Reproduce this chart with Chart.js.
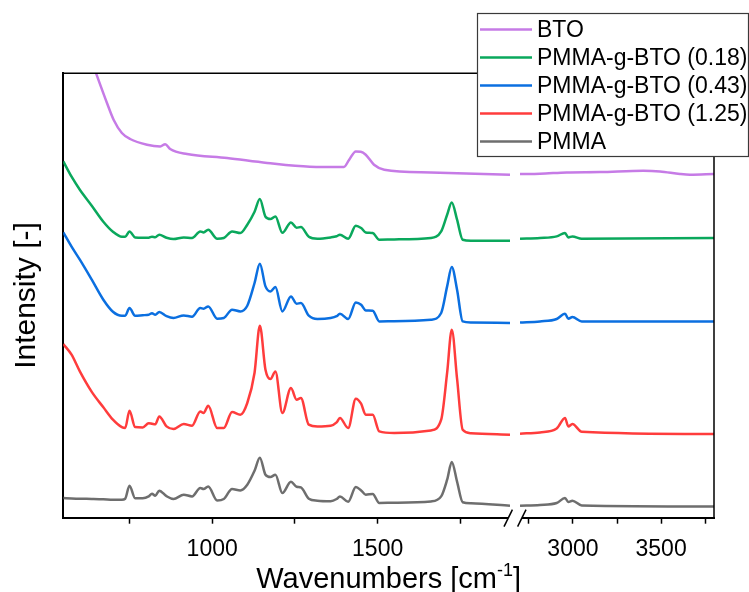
<!DOCTYPE html>
<html>
<head>
<meta charset="utf-8">
<title>FTIR spectra</title>
<script src="https://cdn.jsdelivr.net/npm/chart.js@4.4.1/dist/chart.umd.min.js"></script>
<style>
  body { margin: 0; background: #fff; }
  #wrap { position: relative; width: 749px; height: 592px; }
</style>
</head>
<body>
<div id="wrap"><canvas id="ftir"></canvas></div>
<script>
// wavenumbers (cm-1) shared by the PMMA containing samples, null in 1900-2700 breaks the line
const wavenumbers = [550, 575, 600, 636, 671, 700, 727, 737, 750, 767,
  790, 808, 818, 828, 840, 862, 883, 914, 939, 964,
  974, 988, 1015, 1035, 1060, 1085, 1106, 1128, 1144, 1161,
  1176, 1191, 1212, 1238, 1255, 1268, 1292, 1318, 1358, 1376,
  1386, 1411, 1434, 1450, 1464, 1485, 1505, 1550, 1661, 1692,
  1710, 1724, 1740, 1757, 1782, 1900,
  2300,
  2700, 2813, 2908, 2955, 2974, 2997, 3050, 3800];

const pmma = [19.7, 19.3, 19, 18.8, 18.5, 18, 18, 19, 32, 19.5,
  19.5, 21.3, 24, 22, 27, 21.5, 18.7, 23, 21.3, 29.7,
  28.7, 31.3, 17.3, 18.7, 28.7, 27.3, 33, 47, 60, 43,
  40.7, 43, 24.7, 36, 31, 30.3, 19, 17, 16.5, 18.7,
  21.3, 16, 30.7, 27.3, 23, 23.7, 14.7, 15, 16.3, 21.3,
  38, 55.7, 36, 15.5, 14.5, 12,
  null,
  12, 12.8, 14.7, 19.7, 15.7, 17, 12.3, 11.3];

const graft125 = [173.7, 163, 146.3, 125.8, 110.4, 98, 90.5, 89.7, 107, 90.7,
  90.3, 94.5, 94, 93.5, 101.3, 91.3, 88.7, 93.7, 92, 106.3,
  104.7, 112, 89.7, 89.7, 105.7, 103, 114.7, 145, 192, 148,
  138.7, 146.3, 104.7, 129.7, 118, 119.7, 93, 91.3, 92, 95.3,
  99.7, 89.7, 119, 114, 103, 103, 86.3, 84.7, 87.3, 98,
  145, 188, 139, 88, 84.5, 83,
  null,
  84, 85.3, 89.2, 99.7, 91.3, 93.7, 86, 83.7];

const graft043 = [285.3, 271, 258, 238, 218, 206, 202, 202, 209.7, 202,
  202.5, 203, 204.5, 203, 205.7, 201.5, 199.7, 202.3, 201, 209.7,
  209, 211.3, 199, 199.7, 208, 206.3, 212, 234.7, 254, 231.3,
  226.3, 230.7, 206.3, 221.3, 214, 214.7, 202, 198.7, 199.7, 201.5,
  204, 198.7, 215.3, 213, 207.3, 207, 196.3, 196.5, 198, 204.7,
  231.3, 250.7, 228, 196.3, 195.3, 194.7,
  null,
  195.3, 196.3, 198.7, 204, 199, 200.7, 196.3, 196.3];

const graft018 = [356.3, 341, 328, 312, 296, 286, 281, 281, 286.3, 280.3,
  280, 280, 281, 280.5, 283, 280, 278.7, 280.3, 279.7, 286.3,
  285.3, 288, 279, 279.7, 286.3, 284.7, 293, 306, 318.7, 301,
  298.7, 301.3, 285, 295.3, 290, 290.7, 281, 279, 280.3, 281.5,
  283, 279, 292, 289.7, 285.3, 284.7, 278, 278.3, 279.7, 286.3,
  303, 315.3, 298, 278, 277, 277,
  null,
  279, 279.7, 281.3, 284.7, 280.3, 281.3, 279, 279.7];

// bare BTO has its own sampling
const btoWavenumbers = [550, 600, 649, 682, 702, 727, 752, 803, 843, 858,
  873, 924, 1045, 1166, 1295, 1398, 1414, 1434, 1449, 1464,
  1489, 1520, 1661, 1900,
  2300,
  2700, 2813, 2965, 3154, 3399, 3494, 3607, 3664, 3800];
const bto = [540, 490, 444.4, 414.7, 398, 384.7, 378.7, 373, 371.3, 373.5,
  368.7, 363.7, 359.7, 354.7, 351, 350.7, 358, 366.3, 366, 363,
  353, 348, 345.3, 343,
  null,
  343.7, 344, 345.3, 345.7, 347, 346.3, 343.7, 343, 343.7];

const seriesNames = ['BTO', 'PMMA-g-BTO (0.18)', 'PMMA-g-BTO (0.43)', 'PMMA-g-BTO (1.25)', 'PMMA'];
const seriesColors = ['#c67be6', '#0aa85c', '#0b6fe0', '#ff3c3c', '#6e6e6e'];

const tickValues = [750, 1000, 1250, 1500, 1750, 2750, 3000, 3250, 3500, 3750];
const tickLabels = ['', '1000', '', '1500', '', '', '3000', '', '3500', ''];

// axis with a break: 550-1900 on the left part, 2700-3800 on the right part
const leftRange = [550, 1900];
const rightRange = [2700, 3800];
const breakFrom = 0.6865, breakTo = 0.7019;

const FONT = "'Liberation Sans', Arial, sans-serif";

const LinearBase = Chart.LinearScale || Chart.registry.getScale('linear');

class BrokenLinearScale extends LinearBase {
  buildTicks() {
    return tickValues.map(v => ({ value: v }));
  }
  getPixelForValue(value) {
    if (value === null || value === undefined) return NaN;
    let f;
    if (value <= leftRange[1]) {
      f = (value - leftRange[0]) / (leftRange[1] - leftRange[0]) * breakFrom;
    } else if (value >= rightRange[0]) {
      f = breakTo + (value - rightRange[0]) / (rightRange[1] - rightRange[0]) * (1 - breakTo);
    } else {
      f = breakFrom + (value - leftRange[1]) / (rightRange[0] - leftRange[1]) * (breakTo - breakFrom);
    }
    return this.left + f * this.width;
  }
  getValueForPixel(pixel) {
    const f = (pixel - this.left) / this.width;
    if (f <= breakFrom) return leftRange[0] + f / breakFrom * (leftRange[1] - leftRange[0]);
    if (f >= breakTo) return rightRange[0] + (f - breakTo) / (1 - breakTo) * (rightRange[1] - rightRange[0]);
    return leftRange[1] + (f - breakFrom) / (breakTo - breakFrom) * (rightRange[0] - leftRange[1]);
  }
}
BrokenLinearScale.id = 'brokenLinear';
BrokenLinearScale.defaults = LinearBase.defaults;
Chart.register(BrokenLinearScale);

function toPoints(xs, ys) {
  return xs.map((x, i) => ({ x: x, y: ys[i] }));
}

// frame, axis break marks, x title with superscript and the boxed legend
const decorations = {
  id: 'decorations',
  afterDraw(chart) {
    const ctx = chart.ctx;
    const a = chart.chartArea;
    const x = chart.scales.x;
    ctx.save();

    ctx.strokeStyle = '#000';
    ctx.lineWidth = 1.5;
    ctx.beginPath();
    ctx.moveTo(a.left, a.top);
    ctx.lineTo(a.right, a.top);
    ctx.lineTo(a.right, a.bottom);
    ctx.stroke();

    const bx = (x.getPixelForValue(leftRange[1]) + x.getPixelForValue(rightRange[0])) / 2;
    ctx.fillStyle = '#fff';
    ctx.fillRect(bx - 7, a.bottom - 2, 14, 4);
    ctx.lineWidth = 1.5;
    [-6.8, 6.8].forEach(d => {
      ctx.beginPath();
      ctx.moveTo(bx + d - 4.2, a.bottom + 9);
      ctx.lineTo(bx + d + 4.2, a.bottom - 8);
      ctx.stroke();
    });

    // x axis title
    ctx.fillStyle = '#000';
    ctx.textBaseline = 'alphabetic';
    const main = 'Wavenumbers [cm';
    const sup = '-1';
    const close = ']';
    ctx.font = '29px ' + FONT;
    const wMain = ctx.measureText(main).width;
    const wClose = ctx.measureText(close).width;
    ctx.font = '18px ' + FONT;
    const wSup = ctx.measureText(sup).width;
    let tx = (a.left + a.right) / 2 - (wMain + wSup + wClose) / 2;
    const ty = 588;
    ctx.font = '29px ' + FONT;
    ctx.fillText(main, tx, ty);
    tx += wMain;
    ctx.font = '18px ' + FONT;
    ctx.fillText(sup, tx, ty - 12);
    tx += wSup;
    ctx.font = '29px ' + FONT;
    ctx.fillText(close, tx, ty);

    // legend
    const lx = 477, ly = 13.5, lw = 271, lh = 143;
    ctx.fillStyle = '#fff';
    ctx.fillRect(lx, ly, lw, lh);
    ctx.strokeStyle = '#3a3a3a';
    ctx.lineWidth = 1.2;
    ctx.strokeRect(lx + 0.5, ly, lw, lh);
    ctx.font = '23px ' + FONT;
    ctx.textBaseline = 'middle';
    chart.data.datasets.forEach((ds, i) => {
      const ry = 29.5 + i * 28;
      ctx.strokeStyle = ds.borderColor;
      ctx.lineWidth = 2.5;
      ctx.beginPath();
      ctx.moveTo(480, ry);
      ctx.lineTo(532, ry);
      ctx.stroke();
      ctx.fillStyle = '#000';
      ctx.fillText(ds.label, 537, ry + 1);
    });
    ctx.restore();
  }
};

const allY = [bto, graft018, graft043, graft125, pmma];
const datasets = seriesNames.map((name, i) => ({
  label: name,
  data: i === 0 ? toPoints(btoWavenumbers, bto) : toPoints(wavenumbers, allY[i]),
  borderColor: seriesColors[i],
  borderWidth: 2.5,
  pointRadius: 0,
  fill: false,
  spanGaps: false,
  cubicInterpolationMode: 'monotone'
}));

new Chart(document.getElementById('ftir').getContext('2d'), {
  type: 'line',
  data: { datasets: datasets },
  options: {
    responsive: true,
    maintainAspectRatio: false,
    animation: false,
    events: [],
    layout: { padding: { top: 73.3, right: 35, left: 0, bottom: 0 } },
    plugins: {
      legend: { display: false },
      tooltip: { enabled: false }
    },
    scales: {
      x: {
        type: 'brokenLinear',
        min: 550,
        max: 3800,
        afterFit: scale => { scale.height = 74.3; },
        border: { display: true, color: '#000', width: 2 },
        grid: {
          display: true,
          drawOnChartArea: false,
          drawTicks: true,
          tickLength: 6,
          tickColor: '#000',
          tickWidth: 1.5
        },
        ticks: {
          autoSkip: false,
          maxRotation: 0,
          padding: 12,
          color: '#000',
          font: { family: FONT, size: 23 },
          callback: (v, i) => tickLabels[tickValues.indexOf(v)] || ''
        }
      },
      y: {
        min: 0,
        max: 444.4,
        afterFit: scale => { scale.width = 63.3; },
        border: { display: true, color: '#000', width: 2 },
        grid: { display: false },
        ticks: { display: false },
        title: {
          display: true,
          text: 'Intensity [-]',
          color: '#000',
          font: { family: FONT, size: 30 },
          padding: { top: 9, bottom: 0 }
        }
      }
    }
  },
  plugins: [decorations]
});
</script>
</body>
</html>
